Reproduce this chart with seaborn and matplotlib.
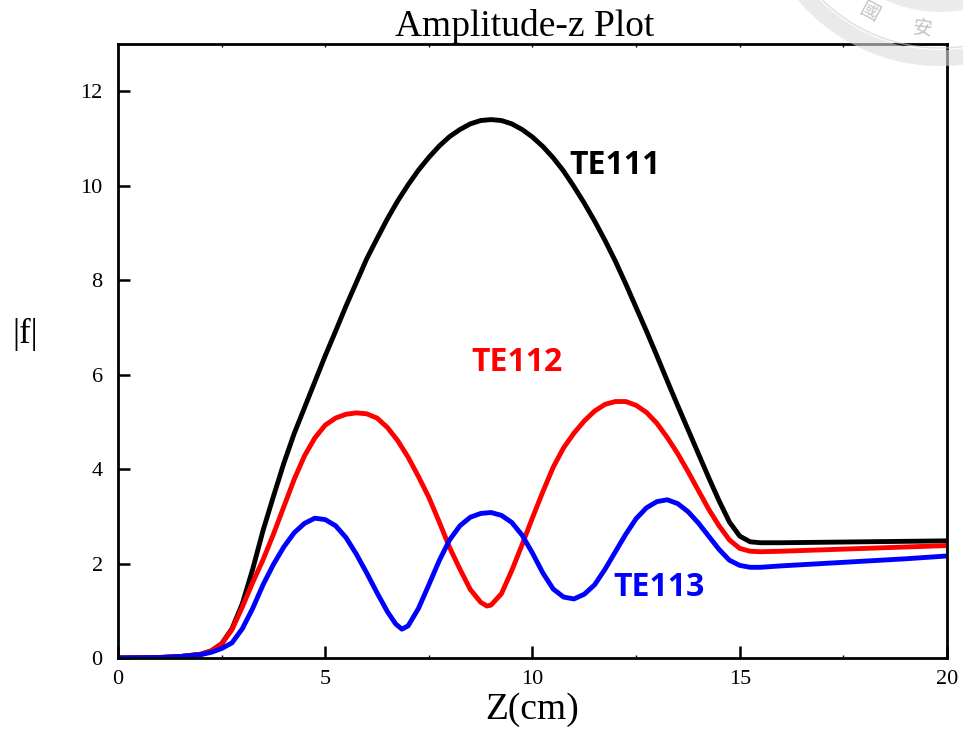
import numpy as np
import pandas as pd
import matplotlib
matplotlib.use("Agg")
import matplotlib.pyplot as plt
from matplotlib.ticker import MultipleLocator
from matplotlib.patches import Wedge, Circle
import seaborn as sns

# |f| along the cavity axis for the three TE modes
z_te111 = [0, 1.0, 1.5, 2.0, 2.25, 2.5, 2.75, 3.0, 3.25, 3.5, 3.75, 4.0, 4.25, 4.5,
           4.75, 5.0, 5.25, 5.5, 5.75, 6.0, 6.25, 6.5, 6.75, 7.0, 7.25, 7.5, 7.75,
           8.0, 8.25, 8.5, 8.75, 9.0, 9.25, 9.5, 9.75, 10.0, 10.25, 10.5, 10.75,
           11.0, 11.25, 11.5, 11.75, 12.0, 12.25, 12.5, 12.75, 13.0, 13.25, 13.5,
           13.75, 14.0, 14.25, 14.5, 14.75, 15.0, 15.25, 15.5, 16.0, 17.0, 18.0,
           19.0, 20.0]
f_te111 = [0, 0.01, 0.03, 0.08, 0.15, 0.3, 0.62, 1.15, 1.88, 2.7, 3.42, 4.12, 4.75,
           5.3, 5.85, 6.4, 6.92, 7.45, 7.95, 8.45, 8.88, 9.3, 9.68, 10.02, 10.33,
           10.6, 10.84, 11.04, 11.19, 11.31, 11.38, 11.40, 11.38, 11.31, 11.19,
           11.03, 10.83, 10.59, 10.31, 9.98, 9.63, 9.25, 8.84, 8.4, 7.92, 7.42,
           6.92, 6.4, 5.87, 5.35, 4.84, 4.33, 3.82, 3.33, 2.88, 2.58, 2.46, 2.44,
           2.44, 2.45, 2.46, 2.47, 2.48]

z_te112 = [0, 1.0, 1.5, 2.0, 2.25, 2.5, 2.75, 3.0, 3.25, 3.5, 3.75, 4.0, 4.25, 4.5,
           4.75, 5.0, 5.25, 5.5, 5.75, 6.0, 6.25, 6.5, 6.75, 7.0, 7.25, 7.5, 7.75,
           8.0, 8.25, 8.5, 8.75, 8.9, 9.0, 9.25, 9.5, 9.75, 10.0, 10.25, 10.5,
           10.75, 11.0, 11.25, 11.5, 11.75, 12.0, 12.25, 12.5, 12.75, 13.0, 13.25,
           13.5, 13.75, 14.0, 14.25, 14.5, 14.75, 15.0, 15.25, 15.5, 16.0, 17.0,
           18.0, 19.0, 20.0]
f_te112 = [0, 0.01, 0.03, 0.08, 0.15, 0.3, 0.6, 1.08, 1.6, 2.08, 2.62, 3.2, 3.78,
           4.28, 4.66, 4.93, 5.08, 5.16, 5.19, 5.17, 5.08, 4.88, 4.6, 4.25, 3.84,
           3.4, 2.88, 2.34, 1.88, 1.45, 1.18, 1.1, 1.12, 1.36, 1.85, 2.4, 2.97,
           3.52, 4.04, 4.45, 4.76, 5.02, 5.23, 5.37, 5.43, 5.43, 5.35, 5.2, 4.97,
           4.67, 4.33, 3.95, 3.55, 3.15, 2.8, 2.5, 2.32, 2.26, 2.25, 2.26, 2.29,
           2.32, 2.35, 2.38]

z_te113 = [0, 1.0, 1.5, 2.0, 2.25, 2.5, 2.75, 3.0, 3.25, 3.5, 3.75, 4.0, 4.25, 4.5,
           4.75, 5.0, 5.25, 5.5, 5.75, 6.0, 6.25, 6.5, 6.7, 6.85, 7.0, 7.25, 7.5,
           7.75, 8.0, 8.25, 8.5, 8.75, 9.0, 9.25, 9.5, 9.75, 10.0, 10.25, 10.5,
           10.75, 11.0, 11.25, 11.5, 11.75, 12.0, 12.25, 12.5, 12.75, 13.0, 13.25,
           13.5, 13.75, 14.0, 14.25, 14.5, 14.75, 15.0, 15.25, 15.5, 16.0, 17.0,
           18.0, 19.0, 20.0]
f_te113 = [0, 0.01, 0.03, 0.07, 0.12, 0.2, 0.32, 0.62, 1.05, 1.55, 1.98, 2.35,
           2.65, 2.85, 2.96, 2.93, 2.8, 2.55, 2.2, 1.8, 1.38, 0.98, 0.72, 0.61,
           0.68, 1.05, 1.55, 2.06, 2.5, 2.8, 2.98, 3.06, 3.08, 3.02, 2.87, 2.6,
           2.22, 1.8, 1.46, 1.29, 1.25, 1.35, 1.55, 1.88, 2.25, 2.62, 2.95, 3.18,
           3.31, 3.35, 3.27, 3.1, 2.86, 2.58, 2.3, 2.07, 1.96, 1.92, 1.92, 1.95,
           2.0, 2.05, 2.1, 2.16]

modes = ["TE111", "TE112", "TE113"]
colors = {"TE111": "#000000", "TE112": "#ff0000", "TE113": "#0000ff"}
label_pos = {"TE111": (11.99, 10.43), "TE112": (9.63, 6.26), "TE113": (13.05, 1.5)}

x_ticks = [0, 5, 10, 15, 20]
y_ticks = [0, 2, 4, 6, 8, 10, 12]

seal_chars = ["國", "安"]

df = pd.concat([
    pd.DataFrame({"z": z_te111, "f": f_te111, "mode": "TE111"}),
    pd.DataFrame({"z": z_te112, "f": f_te112, "mode": "TE112"}),
    pd.DataFrame({"z": z_te113, "f": f_te113, "mode": "TE113"}),
], ignore_index=True)

sns.set_style("white")
plt.rcParams["font.family"] = ["Liberation Serif", "DejaVu Serif"]
plt.rcParams["text.color"] = "black"
plt.rcParams["axes.labelcolor"] = "black"
plt.rcParams["xtick.color"] = "black"
plt.rcParams["ytick.color"] = "black"

fig = plt.figure(figsize=(9.63, 7.35), dpi=100)
ax = fig.add_axes([0.1225, 0.1048, 0.8609, 0.8353])

sns.lineplot(data=df, x="z", y="f", hue="mode", hue_order=modes,
             palette=colors, estimator=None, sort=False, linewidth=3.5,
             legend=False, ax=ax)
for ln in ax.lines:
    ln.set_solid_joinstyle("round")
    ln.set_solid_capstyle("round")

for m in modes:
    xx, yy = label_pos[m]
    ax.text(xx, yy, m, color=colors[m], fontsize=23, fontweight="bold",
            family="Open Sans", ha="center", va="center")

ax.set_xlim(0, 20)
ax.set_ylim(0, 13)
ax.set_xticks(x_ticks)
ax.set_yticks(y_ticks)
ax.xaxis.set_minor_locator(MultipleLocator(2.5))

for side in ["left", "right", "top", "bottom"]:
    ax.spines[side].set_visible(True)
    ax.spines[side].set_color("black")
    ax.spines[side].set_linewidth(2.0)

ax.tick_params(axis="both", which="major", direction="in", length=8.5,
               width=1.8, color="black", labelsize=16, labelcolor="black")
ax.tick_params(axis="x", which="major", pad=9, bottom=True, top=False)
ax.tick_params(axis="y", which="major", pad=11, left=True, right=False)
ax.tick_params(axis="x", which="minor", direction="in", length=2,
               width=1.0, bottom=True, top=False)

top = ax.secondary_xaxis("top")
top.set_xticks(np.arange(0, 20.1, 2.5))
top.tick_params(direction="in", length=2, width=1.0, labeltop=False)
top.spines["top"].set_visible(False)

ax.set_title("Amplitude-z Plot", fontsize=27, pad=2, x=0.49)
ax.set_xlabel("Z(cm)", fontsize=27, labelpad=2)
ax.set_ylabel("|f|", fontsize=25, rotation=0, labelpad=0)
ax.yaxis.set_label_coords(-0.112, 0.5)
ax.grid(False)

# faint university seal in the top-right corner (pixel coordinates)
seal = fig.add_axes([0, 0, 1, 1], zorder=5)
seal.set_xlim(0, 963)
seal.set_ylim(735, 0)
seal.axis("off")
seal.patch.set_alpha(0)
cx, cy = 940, -120
seal.add_patch(Wedge((cx, cy), 186, 0, 360, width=16, facecolor="#dcdcdc",
                     edgecolor="none", alpha=0.6))
seal.add_patch(Circle((cx, cy), 168, facecolor="none", edgecolor="#d0d0d0",
                      linewidth=1.2, alpha=0.6))
seal.add_patch(Circle((cx, cy), 125, facecolor="none", edgecolor="#d8d8d8",
                      linewidth=10, alpha=0.5))
for ch, ang in zip(seal_chars, [-118, -97]):
    a = np.deg2rad(ang)
    r = 150
    seal.text(cx + r * np.cos(-a), cy + r * np.sin(-a), ch, color="#c4c4c4",
              fontsize=14, family=["Noto Sans CJK TC"], ha="center", va="center",
              rotation=ang + 90)

fig.savefig("out.png", dpi=100)
